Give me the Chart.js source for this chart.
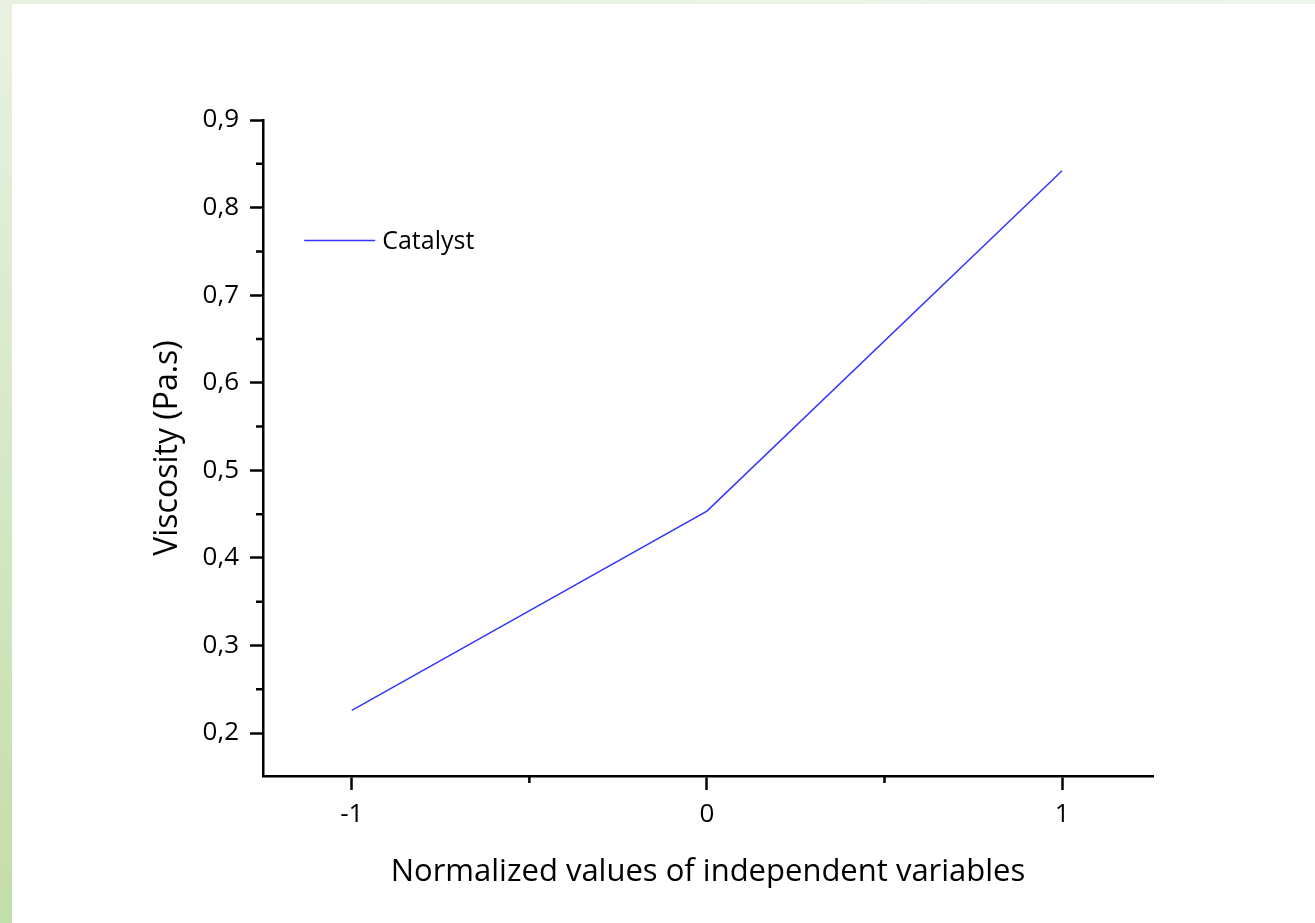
<!DOCTYPE html>
<html>
<head>
<meta charset="utf-8">
<script src="https://cdn.jsdelivr.net/npm/chart.js@4/dist/chart.umd.min.js"></script>
<style>
  html, body { margin: 0; padding: 0; background: #ffffff; }
  #wrap { width: 1315px; height: 923px; position: relative; }
</style>
</head>
<body>
<div id="wrap"><canvas id="c" width="1315" height="923"></canvas></div>
<script>
// ---- data ----
const xValues = [-1, 0, 1];
const viscosity = [0.226, 0.4535, 0.842];
const seriesLabel = 'Catalyst';
const xMajorTicks = [-1, 0, 1];
const xMinorTicks = [-0.5, 0.5];
const yMajorTicks = [0.2, 0.3, 0.4, 0.5, 0.6, 0.7, 0.8, 0.9];
const yMinorTicks = [0.25, 0.35, 0.45, 0.55, 0.65, 0.75, 0.85];
const xTitle = 'Normalized values of independent variables';
const yTitle = 'Viscosity (Pa.s)';

const FONT = '"Open Sans", Lato, sans-serif';

const bgPlugin = {
  id: 'bg',
  beforeDraw(chart) {
    const ctx = chart.ctx;
    ctx.save();
    ctx.fillStyle = '#ffffff';
    ctx.fillRect(0, 0, chart.width, chart.height);
    const gl = ctx.createLinearGradient(0, 0, 0, chart.height);
    gl.addColorStop(0, '#e9f2e2');
    gl.addColorStop(1, '#c2dea9');
    ctx.fillStyle = gl;
    ctx.fillRect(0, 0, 12, chart.height);
    const gt = ctx.createLinearGradient(0, 0, chart.width, 0);
    gt.addColorStop(0, '#e7f1df');
    gt.addColorStop(1, '#eef5e9');
    ctx.fillStyle = gt;
    ctx.fillRect(12, 0, chart.width - 12, 4);
    ctx.restore();
  }
};

const extrasPlugin = {
  id: 'extras',
  afterDraw(chart) {
    const ctx = chart.ctx;
    const xs = chart.scales.x, ys = chart.scales.y;
    const area = chart.chartArea;
    ctx.save();
    ctx.strokeStyle = '#000000';
    ctx.lineWidth = 2.5;
    ctx.beginPath();
    xMinorTicks.forEach(v => {
      const px = xs.getPixelForValue(v);
      ctx.moveTo(px, area.bottom);
      ctx.lineTo(px, area.bottom + 7);
    });
    yMinorTicks.forEach(v => {
      const py = ys.getPixelForValue(v);
      ctx.moveTo(area.left, py);
      ctx.lineTo(area.left - 7, py);
    });
    ctx.stroke();
    // legend
    const ds = chart.data.datasets[0];
    const ly = ys.getPixelForValue(0.7625);
    const lx0 = xs.getPixelForValue(-1.134);
    const lx1 = xs.getPixelForValue(-0.934);
    ctx.strokeStyle = ds.borderColor;
    ctx.lineWidth = 1.5;
    ctx.beginPath();
    ctx.moveTo(lx0, ly);
    ctx.lineTo(lx1, ly);
    ctx.stroke();
    ctx.fillStyle = '#000000';
    ctx.font = '25px ' + FONT;
    ctx.textBaseline = 'middle';
    ctx.textAlign = 'left';
    ctx.fillText(ds.label, lx1 + 7, ly + 1);
    ctx.restore();
  }
};

new Chart(document.getElementById('c'), {
  type: 'line',
  data: {
    datasets: [{
      label: seriesLabel,
      data: xValues.map((x, i) => ({ x: x, y: viscosity[i] })),
      borderColor: 'rgb(52,52,255)',
      borderWidth: 1.5,
      pointRadius: 0,
      tension: 0,
      fill: false
    }]
  },
  options: {
    responsive: false,
    animation: false,
    events: [],
    layout: { padding: { top: 120, right: 162, bottom: 0, left: 0 } },
    plugins: { legend: { display: false }, tooltip: { enabled: false } },
    scales: {
      x: {
        type: 'linear',
        min: -1.25,
        max: 1.256,
        afterBuildTicks(s) { s.ticks = xMajorTicks.map(v => ({ value: v })); },
        afterFit(s) { s.height = 147; },
        border: { display: true, color: '#000000', width: 2.5 },
        grid: { drawOnChartArea: false, drawTicks: true, tickLength: 14, tickWidth: 2.5, tickColor: '#000000' },
        ticks: {
          color: '#000000',
          padding: 9,
          font: { family: FONT, size: 26 },
          callback: v => String(v),
          maxRotation: 0
        },
        title: {
          display: true,
          text: xTitle,
          color: '#000000',
          font: { family: FONT, size: 31 },
          padding: { top: 0, bottom: 32 }
        }
      },
      y: {
        type: 'linear',
        min: 0.151,
        max: 0.9,
        afterBuildTicks(s) { s.ticks = yMajorTicks.map(v => ({ value: v })); },
        afterFit(s) { s.width = 263; },
        border: { display: true, color: '#000000', width: 2.5 },
        grid: { drawOnChartArea: false, drawTicks: true, tickLength: 13, tickWidth: 2.5, tickColor: '#000000' },
        ticks: {
          color: '#000000',
          padding: 11,
          font: { family: FONT, size: 26 },
          callback: v => v.toFixed(1).replace('.', ',')
        },
        title: {
          display: true,
          text: yTitle,
          color: '#000000',
          font: { family: FONT, size: 32 },
          padding: { top: 149, bottom: 0 }
        }
      }
    }
  },
  plugins: [bgPlugin, extrasPlugin]
});
</script>
</body>
</html>
